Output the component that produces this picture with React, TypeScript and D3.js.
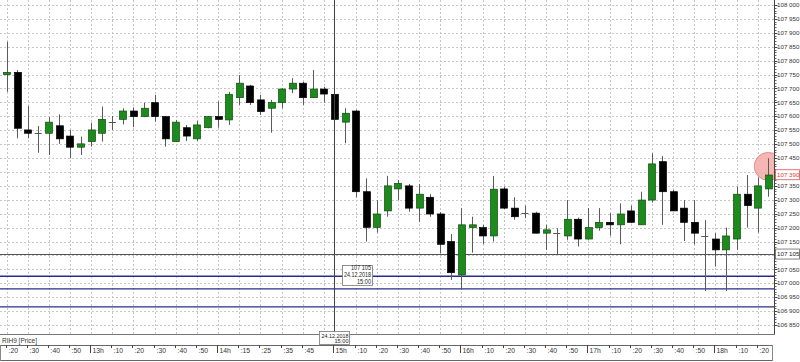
import React from "react";
import * as d3 from "d3";

const times = [
  "12:20","12:25","12:30","12:35","12:40","12:45","12:50","12:55",
  "13:00","13:05","13:10","13:15","13:20","13:25","13:30","13:35","13:40","13:45","13:50","13:55",
  "14:05","14:10","14:15","14:20","14:25","14:30","14:35","14:40","14:45","14:50","14:55",
  "15:00","15:05","15:10","15:15","15:20","15:25","15:30","15:35","15:40","15:45","15:50","15:55",
  "16:00","16:05","16:10","16:15","16:20","16:25","16:30","16:35","16:40","16:45","16:50","16:55",
  "17:00","17:05","17:10","17:15","17:20","17:25","17:30","17:35","17:40","17:45","17:50","17:55",
  "18:00","18:05","18:10","18:15","18:20","18:25"
];

const opens = [
  107750,107758,107551,107540,107539,107566,107529,107489,107509,107539,
  107581,107589,107619,107599,107649,107599,107509,107559,107519,107559,
  107599,107587,107667,107709,107659,107629,107649,107698,107719,107667,
  107698,107679,107579,107619,107329,107201,107260,107339,107350,107270,
  107309,107249,107150,107030,107200,107200,107170,107339,107270,107252,
  107252,107180,107182,107170,107230,107159,107200,107219,107210,107260,
  107210,107299,107437,107329,107270,107219,107170,107159,107120,107159,
  107320,107270,107339
];
const highs = [
  107868,107766,107637,107565,107597,107607,107551,107527,107577,107635,
  107601,107629,107632,107649,107677,107601,107587,107569,107584,107601,
  107653,107688,107748,107713,107677,107659,107701,107737,107724,107766,
  107706,107731,107629,107623,107377,107299,107386,107371,107357,107357,
  107320,107256,107177,107270,107239,107210,107386,107347,107309,107279,
  107257,107210,107198,107299,107236,107270,107270,107252,107287,107279,
  107329,107467,107457,107335,107299,107299,107227,107180,107200,107347,
  107389,107380,107449
];
const lows = [
  107688,107521,107521,107469,107461,107501,107449,107461,107491,107509,
  107551,107571,107561,107597,107581,107491,107509,107511,107511,107557,
  107559,107569,107641,107641,107605,107541,107629,107683,107641,107666,
  107649,107585,107503,107309,107150,107182,107239,107299,107257,107221,
  107239,107108,107012,106978,107110,107141,107150,107267,107228,107234,
  107180,107120,107102,107156,107132,107156,107189,107171,107140,107216,
  107210,107290,107210,107260,107152,107140,106972,107060,106972,107120,
  107200,107182,107311
];
const closes = [
  107758,107557,107539,107540,107579,107519,107489,107501,107551,107589,
  107581,107619,107599,107629,107599,107519,107579,107529,107569,107599,
  107589,107679,107719,107649,107617,107650,107698,107719,107667,107698,
  107680,107589,107611,107329,107201,107249,107350,107359,107270,107320,
  107249,107140,107038,107210,107210,107170,107338,107270,107239,107252,
  107180,107192,107180,107230,107159,107200,107219,107210,107249,107219,
  107299,107429,107329,107260,107219,107180,107170,107120,107170,107320,
  107279,107350,107389
];

const tickTimes = [
  "12:20","12:30","12:40","12:50","13:00","13:10","13:20","13:30","13:40","13:50",
  "14:05","14:15","14:25","14:35","14:45","15:00","15:10","15:20","15:30","15:40","15:50",
  "16:00","16:10","16:20","16:30","16:40","16:50","17:00","17:10","17:20","17:30","17:40","17:50",
  "18:00","18:10","18:20"
];
const tickLabels = [
  ":20",":30",":40",":50","13h",":10",":20",":30",":40",":50",
  "14h",":15",":25",":35",":45","15h",":10",":20",":30",":40",":50",
  "16h",":10",":20",":30",":40",":50","17h",":10",":20",":30",":40",":50",
  "18h",":10",":20"
];
const hourTickTimes = ["13:00","14:05","15:00","16:00","17:00","18:00"];
const extraGridTimes = ["14:55"];

const priceTicks = [
  106850,106900,106950,107000,107050,107100,107150,107200,107250,107300,107350,107400,
  107450,107500,107550,107600,107650,107700,107750,107800,107850,107900,107950,108000
];

const blueLevels = [107025, 106980, 106915];
const crossPrice = 107105;
const crossTime = "15:00";
const crossDate = "24.12.2018";
const lastPrice = 107390;
const instrument = "RIH9 [Price]";

const FONT = "'Liberation Sans', Arial, sans-serif";

export default function App() {
  const W = 800, H = 362;
  const plotRight = 775;
  const plotBottom = 334;

  const x = d3.scalePoint<string>().domain(times).range([6.5, 6.5 + 72 * 10.58]);
  const y = d3.scaleLinear().domain([106850, 108000]).range([325, 5]);
  const fmt = d3.formatLocale({ decimal: ".", thousands: " ", grouping: [3], currency: ["", ""] }).format(",d");

  const px = (v: number) => Math.round(v) + 0.5;
  const minorTicks = d3.range(106850, 108001, 10);
  const bodyW = 7;

  const cx = x(crossTime) as number;
  const cy = y(crossPrice);
  const lastX = x(times[times.length - 1]) as number;

  const priceText = (v: number, color: string) => (
    <text x={777} y={y(v)} dy="0.35em" fontSize={6.2} fill={color}>{fmt(v)}</text>
  );
  const hidden = (v: number) => Math.abs(y(v) - cy) < 8 || Math.abs(y(v) - y(lastPrice)) < 8;

  return (
    <svg width={W} height={H} style={{ position: "absolute", left: 0, top: 0, background: "#fff" }} fontFamily={FONT}>
      <defs>
        <clipPath id="plotclip">
          <rect x={0} y={0} width={plotRight - 1} height={plotBottom} />
        </clipPath>
      </defs>
      <rect x={0} y={0} width={W} height={H} fill="#fff" />

      {/* horizontal grid */}
      {priceTicks.map((v) => (
        <line key={"hg" + v} x1={0} x2={plotRight} y1={px(y(v))} y2={px(y(v))} stroke="#c6c6c6" strokeDasharray="2,2" />
      ))}
      {/* vertical grid */}
      {[...tickTimes, ...extraGridTimes].map((t) => (
        <line key={"vg" + t} x1={px(x(t) as number)} x2={px(x(t) as number)} y1={0} y2={plotBottom} stroke="#c6c6c6" strokeDasharray="2,2" />
      ))}

      {/* horizontal levels */}
      {blueLevels.map((v) => (
        <line key={"bl" + v} x1={0} x2={plotRight} y1={y(v)} y2={y(v)} stroke="#2b2b8c" strokeWidth={1.4} />
      ))}
      <line x1={0} x2={plotRight} y1={px(cy)} y2={px(cy)} stroke="#555" strokeWidth={1} />

      {/* highlight circle */}
      <g clipPath="url(#plotclip)">
        <circle cx={lastX} cy={y(107420)} r={14} fill="#f4a9a9" fillOpacity={0.85} stroke="#e07a7a" strokeWidth={0.8} />
      </g>

      {/* candles */}
      {times.map((t, i) => {
        const xc = x(t) as number;
        const o = opens[i], c = closes[i], h = highs[i], l = lows[i];
        const up = c > o;
        const doji = Math.abs(c - o) < 3;
        const top = y(Math.max(o, c));
        const bot = y(Math.min(o, c));
        return (
          <g key={"c" + i}>
            <line x1={px(xc)} x2={px(xc)} y1={y(h)} y2={y(l)} stroke="#5a5a5a" strokeWidth={1} />
            {doji ? (
              <line x1={xc - bodyW / 2} x2={xc + bodyW / 2} y1={px(top)} y2={px(top)} stroke="#555" strokeWidth={1} />
            ) : (
              <rect
                x={Math.round(xc - bodyW / 2) + 0.5}
                y={top}
                width={bodyW}
                height={Math.max(1, bot - top)}
                fill={up ? "#1d8a1d" : "#000"}
                stroke={up ? "#0e4f0e" : "#000"}
                strokeWidth={0.7}
              />
            )}
          </g>
        );
      })}

      {/* crosshair vertical */}
      <line x1={px(cx)} x2={px(cx)} y1={0} y2={345} stroke="#444" strokeWidth={1} />

      {/* plot bottom border */}
      <line x1={0} x2={plotRight} y1={px(plotBottom)} y2={px(plotBottom)} stroke="#777" />

      {/* right axis */}
      <line x1={px(plotRight - 1)} x2={px(plotRight - 1)} y1={0} y2={plotBottom} stroke="#444" />
      {minorTicks.map((v) => (
        <line key={"mt" + v} x1={plotRight} x2={plotRight + 1.5} y1={px(y(v))} y2={px(y(v))} stroke="#666" />
      ))}
      {priceTicks.map((v) => (
        <g key={"pt" + v}>
          <line x1={plotRight} x2={plotRight + 2.5} y1={px(y(v))} y2={px(y(v))} stroke="#444" />
          {hidden(v) ? null : priceText(v, "#333")}
        </g>
      ))}

      {/* crosshair price label */}
      <rect x={775.5} y={cy - 5} width={24} height={10} fill="#fff" stroke="#666" strokeWidth={0.8} />
      {priceText(crossPrice, "#222")}

      {/* last price label */}
      <rect x={775.5} y={y(lastPrice) - 5} width={24} height={10} fill="#fff" stroke="#e05050" strokeWidth={0.8} />
      {priceText(lastPrice, "#d83a3a")}

      {/* tooltip box */}
      <rect x={342.5} y={265.5} width={30} height={20} fill="#fff" stroke="#777" strokeWidth={0.8} />
      <text x={371} y={270.3} fontSize={6.3} textAnchor="end" fill="#222" textLength={20} lengthAdjust="spacingAndGlyphs">{fmt(crossPrice)}</text>
      <text x={371} y={277.3} fontSize={6.3} textAnchor="end" fill="#222" textLength={27} lengthAdjust="spacingAndGlyphs">{crossDate}</text>
      <text x={371} y={284.3} fontSize={6.3} textAnchor="end" fill="#222" textLength={14} lengthAdjust="spacingAndGlyphs">{crossTime}</text>

      {/* instrument label */}
      <text x={2} y={343} fontSize={6.5} fill="#333">{instrument}</text>

      {/* time axis */}
      <line x1={0} x2={773} y1={345.5} y2={345.5} stroke="#666" />
      <line x1={0} x2={773} y1={360.5} y2={360.5} stroke="#666" />
      <line x1={0.5} x2={0.5} y1={345} y2={361} stroke="#888" />
      <line x1={772.5} x2={772.5} y1={345} y2={361} stroke="#888" />
      {tickTimes.map((t, i) => {
        const tx = px((x(t) as number) - 1);
        const isHour = hourTickTimes.includes(t);
        return (
          <g key={"tt" + t}>
            <line x1={tx} x2={tx} y1={345} y2={isHour ? 353 : 348} stroke="#444" />
            <text x={tx + 2} y={352.5} fontSize={6.8} fill="#333">{tickLabels[i]}</text>
          </g>
        );
      })}

      {/* crosshair time label */}
      <rect x={319.5} y={331.5} width={30} height={13} fill="#fff" stroke="#777" strokeWidth={0.8} />
      <text x={348.5} y={337.6} fontSize={6} textAnchor="end" fill="#222" textLength={27} lengthAdjust="spacingAndGlyphs">{crossDate}</text>
      <text x={348.5} y={343.4} fontSize={6} textAnchor="end" fill="#222" textLength={14} lengthAdjust="spacingAndGlyphs">{crossTime}</text>
    </svg>
  );
}
